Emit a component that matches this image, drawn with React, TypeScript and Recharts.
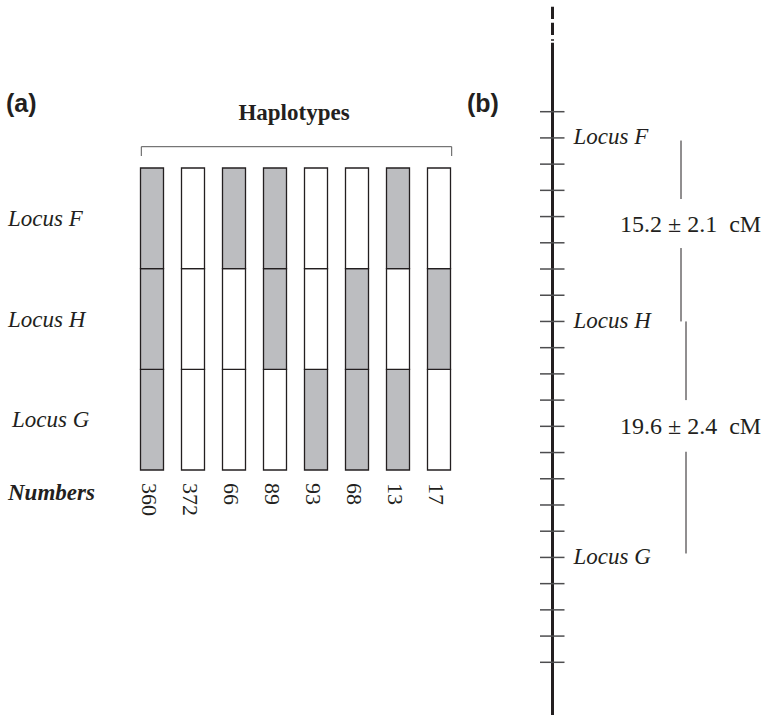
import { BarChart, Bar, Cell, XAxis, YAxis, ComposedChart, Scatter, ReferenceLine } from 'recharts';

// Panel (a): haplotype classes, 1 = grey (allele present), 0 = white
const HAPLOTYPE_COUNTS = ['360', '372', '66', '89', '93', '68', '13', '17'];
const LOCUS_F = [1, 0, 1, 1, 0, 0, 1, 0];
const LOCUS_H = [1, 0, 0, 1, 0, 1, 0, 1];
const LOCUS_G = [1, 0, 0, 0, 1, 1, 1, 0];
const ROW_LABELS = ['Locus G', 'Locus H', 'Locus F'];
const ROW_TICKS = [0.5, 1.5, 2.5];

// Panel (b): linkage map, positions in scale-tick units
const MAP_TICKS = [0, 1, 2, 3, 4, 5, 6, 7, 8, 9, 10, 11, 12, 13, 14, 15, 16, 17, 18, 19, 20, 21];
const MAP_LOCI = [
  { name: 'Locus F', pos: 1 },
  { name: 'Locus H', pos: 8 },
  { name: 'Locus G', pos: 17 },
];
const DIST_LABELS = [
  { text: '15.2 ± 2.1  cM', pos: 4.27 },
  { text: '19.6 ± 2.4  cM', pos: 11.99 },
];
// bar pieces either side of the distance text
const DIST_FH = [[1.1, 3.33], [5.2, 8.0]];
const DIST_HG = [[8.0, 11.0], [12.97, 16.85]];

const SERIF = "'Liberation Serif', 'Times New Roman', Times, serif";
const SANS = "'Liberation Sans', Arial, Helvetica, sans-serif";
const INK = '#231f20';
const GREY = '#bcbdc0';

const rows = HAPLOTYPE_COUNTS.map((n) => ({ n, F: 1, H: 1, G: 1 }));

const CHR_X = 32.5; // chromosome position inside panel (b) x units
const BAR1_X = 161;
const BAR2_X = 166;

function NumberTick(props: any) {
  const { x, y, payload } = props;
  const tx = x - 10.5;
  const ty = y + 5;
  return (
    <text
      x={tx}
      y={ty}
      transform={`rotate(90, ${tx}, ${ty})`}
      fontFamily={SERIF}
      fontSize={22}
      fill={INK}
      textAnchor="start"
    >
      {payload.value}
    </text>
  );
}

function LocusTick(props: any) {
  const { y, payload } = props;
  const idx = ROW_TICKS.indexOf(payload.value);
  return (
    <text
      x={idx === 0 ? 12 : 8}
      y={y + 7.5}
      fontFamily={SERIF}
      fontStyle="italic"
      fontSize={23}
      fill={INK}
    >
      {ROW_LABELS[idx]}
    </text>
  );
}

function HaplotypePanel() {
  const cells = (pattern: number[]) =>
    pattern.map((v, i) => <Cell key={i} fill={v ? GREY : '#ffffff'} />);
  return (
    <BarChart
      width={520}
      height={715}
      data={rows}
      margin={{ top: 168, right: 60.5, bottom: 195, left: 0 }}
      barSize={23}
    >
      <XAxis
        dataKey="n"
        interval={0}
        axisLine={false}
        tickLine={false}
        height={50}
        tick={NumberTick}
      />
      <YAxis
        type="number"
        domain={[0, 3]}
        ticks={ROW_TICKS}
        width={131.5}
        axisLine={false}
        tickLine={false}
        tick={LocusTick}
      />
      <Bar dataKey="G" stackId="h" stroke={INK} strokeWidth={1.3} isAnimationActive={false}>
        {cells(LOCUS_G)}
      </Bar>
      <Bar dataKey="H" stackId="h" stroke={INK} strokeWidth={1.3} isAnimationActive={false}>
        {cells(LOCUS_H)}
      </Bar>
      <Bar dataKey="F" stackId="h" stroke={INK} strokeWidth={1.3} isAnimationActive={false}>
        {cells(LOCUS_F)}
      </Bar>
    </BarChart>
  );
}

function MapPanel() {
  const tickPts = MAP_TICKS.map((t) => ({ x: CHR_X, y: t }));
  const lociPts = MAP_LOCI.map((l) => ({ x: CHR_X, y: l.pos, name: l.name }));
  const labelPts = DIST_LABELS.map((d) => ({ x: 100, y: d.pos, text: d.text }));
  return (
    <ComposedChart width={246} height={715} margin={{ top: 0, right: 0, bottom: 0, left: 0 }}>
      <XAxis type="number" dataKey="x" domain={[0, 246]} hide />
      <YAxis type="number" dataKey="y" domain={[-4.26, 23.01]} reversed hide allowDataOverflow />
      {/* chromosome: broken top, solid body */}
      <ReferenceLine
        segment={[{ x: CHR_X, y: -4.005 }, { x: CHR_X, y: -2.71 }]}
        stroke={INK}
        strokeWidth={3}
        strokeDasharray="12.3 3.7 12.3 4.3 1.4"
      />
      <ReferenceLine
        segment={[{ x: CHR_X, y: -2.63 }, { x: CHR_X, y: 23.01 }]}
        stroke={INK}
        strokeWidth={3}
      />
      {DIST_FH.map(([a, b], i) => (
        <ReferenceLine key={`fh${i}`} segment={[{ x: BAR1_X, y: a }, { x: BAR1_X, y: b }]} stroke={INK} strokeWidth={1} />
      ))}
      {DIST_HG.map(([a, b], i) => (
        <ReferenceLine key={`hg${i}`} segment={[{ x: BAR2_X, y: a }, { x: BAR2_X, y: b }]} stroke={INK} strokeWidth={1} />
      ))}
      <Scatter
        data={tickPts}
        isAnimationActive={false}
        shape={(p: any) => (
          <line x1={p.cx - 12.5} x2={p.cx + 12} y1={p.cy} y2={p.cy} stroke="#4d4d4f" strokeWidth={1.5} />
        )}
      />
      <Scatter
        data={lociPts}
        isAnimationActive={false}
        shape={(p: any) => (
          <text x={p.cx + 21} y={p.cy + 6.5} fontFamily={SERIF} fontStyle="italic" fontSize={23} fill={INK}>
            {p.payload.name}
          </text>
        )}
      />
      <Scatter
        data={labelPts}
        isAnimationActive={false}
        shape={(p: any) => (
          <text x={p.cx} y={p.cy + 8} fontFamily={SERIF} fontSize={24} fill={INK} style={{ whiteSpace: 'pre' }}>
            {p.payload.text}
          </text>
        )}
      />
    </ComposedChart>
  );
}

export default function App() {
  return (
    <div style={{ position: 'absolute', left: 0, top: 0, width: 766, height: 715, background: '#fff' }}>
      <div style={{ position: 'absolute', left: 0, top: 0 }}>
        <HaplotypePanel />
      </div>
      <div style={{ position: 'absolute', left: 520, top: 0 }}>
        <MapPanel />
      </div>
      <svg
        width={766}
        height={715}
        style={{ position: 'absolute', left: 0, top: 0, pointerEvents: 'none' }}
      >
        <text x={6} y={112} fontFamily={SANS} fontWeight="bold" fontSize={25} fill={INK}>(a)</text>
        <text x={467} y={112} fontFamily={SANS} fontWeight="bold" fontSize={25} fill={INK}>(b)</text>
        <text x={294} y={120} textAnchor="middle" fontFamily={SERIF} fontWeight="bold" fontSize={23} fill={INK}>
          Haplotypes
        </text>
        <path d="M141.3 156 V146.7 H451.7 V156" fill="none" stroke="#555" strokeWidth={1} />
        <text x={8} y={500} fontFamily={SERIF} fontWeight="bold" fontStyle="italic" fontSize={23} fill={INK}>
          Numbers
        </text>
      </svg>
    </div>
  );
}
